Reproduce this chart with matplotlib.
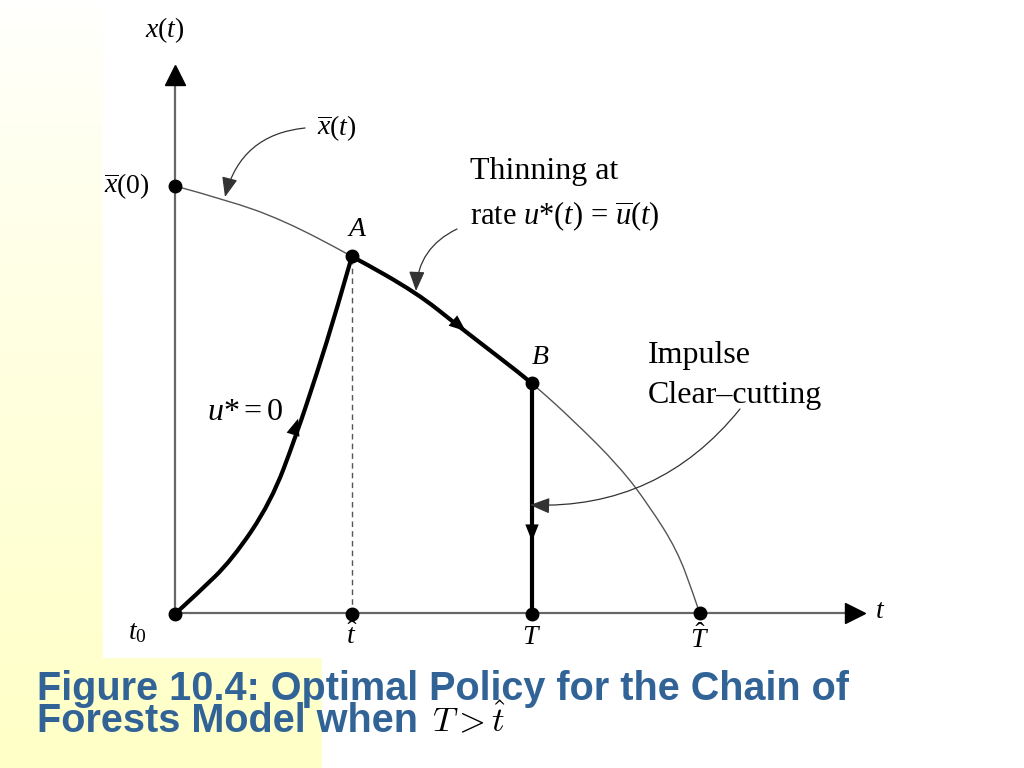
import numpy as np
import matplotlib
matplotlib.use('Agg')
import matplotlib.pyplot as plt
from matplotlib.path import Path
from matplotlib.patches import PathPatch, Rectangle

plt.rcParams['mathtext.fontset'] = 'custom'
plt.rcParams['mathtext.rm'] = 'Liberation Serif'
plt.rcParams['mathtext.it'] = 'Liberation Serif:italic'
plt.rcParams['mathtext.bf'] = 'Liberation Serif:bold'

# points (t along the time axis, x = stand volume)
growth_t = [0, 0.23, 0.57, 0.96, 1.21, 1.42, 1.61, 1.77]      # u* = 0 path, t0 -> A
growth_x = [0, 0.21, 0.54, 1.12, 1.78, 2.41, 3.02, 3.58]

xbar_t = [0, 0.52, 1.08, 1.77, 2.42, 2.82, 3.25, 3.57, 3.98, 4.45, 4.75, 5.02, 5.18, 5.25]
xbar_x = [4.28, 4.14, 3.94, 3.58, 3.21, 2.89, 2.56, 2.31, 1.94, 1.47, 1.07, 0.64, 0.21, 0.0]

t_hat = 1.77
T = 3.57
T_hat = 5.25
x_A = 3.58
x_B = 2.31
x0 = 4.28


def smooth_path(ts, xs):
    # quadratic b-spline through the read points (library draws the curves)
    pts = np.column_stack([ts, xs])
    verts = [pts[0]]
    codes = [Path.MOVETO]
    n = len(pts)
    for i in range(1, n - 1):
        end = pts[i + 1] if i == n - 2 else (pts[i] + pts[i + 1]) / 2
        verts += [pts[i], end]
        codes += [Path.CURVE3, Path.CURVE3]
    return Path(verts, codes)


fig = plt.figure(figsize=(10.24, 7.68), dpi=100)

# slide background: yellow gradient strip on the left, white picture area
bg = fig.add_axes([0, 0, 1, 1])
bg.set_xlim(0, 1024)
bg.set_ylim(768, 0)
bg.axis('off')
grad = np.linspace(0, 1, 256).reshape(-1, 1)
yellow = np.ones((256, 1, 3))
yellow[:, :, 2] = 1 - 0.22 * grad ** 0.8
bg.imshow(yellow, extent=[0, 322, 768, 0], aspect='auto', zorder=0)
bg.add_patch(Rectangle((322, 0), 702, 768, color='white', zorder=1))
bg.add_patch(Rectangle((103, 0), 921, 657, color='white', zorder=2))

ax = fig.add_axes([0, 0, 1, 1])
ax.set_xlim(-1.75, 8.49)
ax.set_ylim(-1.54, 6.14)
ax.axis('off')
ax.patch.set_alpha(0)

# axes
ax.plot([0, 0], [0, 5.35], color='#666666', lw=1.6, zorder=2)
ax.plot([0, 6.75], [0.01, 0.01], color='#666666', lw=1.6, zorder=2)
ax.plot(0, 5.39, marker='^', ms=15, color='black', zorder=3)
ax.plot(6.80, 0.01, marker='>', ms=15, color='black', zorder=3)

# xbar(t) curve (thin)
xbar_path = smooth_path(xbar_t, xbar_x)
ax.add_patch(PathPatch(xbar_path, fill=False, edgecolor='#555555', lw=1.0, zorder=2))
# thinning along xbar from A to B (same curve, clipped)
thick = PathPatch(xbar_path, fill=False, edgecolor='black', lw=3.0, zorder=4)
ax.add_patch(thick)
clip = Rectangle((t_hat, -1), T - t_hat, 7, transform=ax.transData)
thick.set_clip_path(clip)
# growth with u* = 0
ax.add_patch(PathPatch(smooth_path(growth_t, growth_x), fill=False,
                       edgecolor='black', lw=3.0, zorder=4))
# clear-cutting at T
ax.plot([T, T], [0, x_B], color='black', lw=3.0, zorder=4)
# dashed drop from A
ax.plot([t_hat, t_hat], [0, x_A - 0.05], color='#555555', lw=1.0,
        linestyle=(0, (4, 3)), zorder=2)

# dots
ax.plot([0, t_hat, T, T_hat, 0, t_hat, T], [0, 0, 0, 0.01, x0, x_A, x_B],
        'o', color='black', ms=9, zorder=5)

# direction heads on the paths
hs = '-|>,head_length=0.55,head_width=0.22'
head = dict(arrowstyle=hs, mutation_scale=22, lw=0, color='black')
ax.annotate('', xy=(1.24, 1.98), xytext=(1.15, 1.70), arrowprops=head, zorder=6)
ax.annotate('', xy=(2.93, 2.81), xytext=(2.70, 3.00), arrowprops=head, zorder=6)
ax.annotate('', xy=(T, 0.70), xytext=(T, 0.96), arrowprops=head, zorder=6)

# callout arrows
call = dict(arrowstyle=hs, mutation_scale=22, lw=0.9, color='#333333',
            shrinkA=0, shrinkB=0)
ax.annotate('', xy=(0.50, 4.17), xytext=(1.30, 4.86),
            arrowprops=dict(call, connectionstyle='arc3,rad=0.35'), zorder=6)
ax.annotate('', xy=(2.41, 3.23), xytext=(2.82, 3.85),
            arrowprops=dict(call, connectionstyle='arc3,rad=0.3'), zorder=6)
ax.annotate('', xy=(3.55, 1.09), xytext=(5.65, 2.05),
            arrowprops=dict(call, connectionstyle='arc3,rad=-0.25'), zorder=6)

# labels
serif = 'Liberation Serif'
ax.text(-0.10, 5.84, r'$x(t)$', fontsize=20, ha='center', va='center', family=serif)
ax.text(7.05, 0.03, r'$t$', fontsize=20, ha='center', va='center', family=serif)
ax.text(1.62, 4.86, r'$\overline{x}(t)$', fontsize=20, ha='center', va='center', family=serif)
ax.text(-0.25, 4.28, r'$\overline{x}(\mathrm{0})$', fontsize=20, ha='right', va='center', family=serif)
ax.text(1.82, 3.85, r'$A$', fontsize=20, ha='center', va='center', family=serif)
ax.text(3.65, 2.56, r'$B$', fontsize=20, ha='center', va='center', family=serif)
ax.text(0.70, 2.02, r'$u$*$=\mathrm{0}$', fontsize=23, ha='center', va='center', family=serif)
ax.text(-0.38, -0.19, r'$t_{\mathrm{0}}$', fontsize=20, ha='center', va='center', family=serif)
ax.text(t_hat, -0.22, r'$\hat{t}$', fontsize=20, ha='center', va='center', family=serif)
ax.text(T, -0.24, r'$T$', fontsize=20, ha='center', va='center', family=serif)
ax.text(T_hat, -0.25, r'$\hat{T}$', fontsize=20, ha='center', va='center', family=serif)

ax.text(2.95, 4.42, 'Thinning at', fontsize=23, ha='left', va='center', family=serif)
ax.text(2.95, 3.98, r'rate $u$*$(t)$ = $\overline{u}(t)$', fontsize=22, ha='left',
        va='center', family=serif)
ax.text(4.73, 2.58, 'Impulse', fontsize=23, ha='left', va='center', family=serif)
ax.text(4.73, 2.18, 'Clear\u2013cutting', fontsize=23, ha='left', va='center', family=serif)

# caption (two tightly spaced lines, as on the slide)
blue = '#326397'
fig.text(37 / 1024, 1 - 732 / 768,
         'Figure 10.4: Optimal Policy for the Chain of\nForests Model when',
         fontsize=28.5, fontweight='bold', color=blue, family='Liberation Sans',
         ha='left', va='baseline', linespacing=0.81)
fig.text(432 / 1024, 1 - 732 / 768, r'$T > \hat{t}$', fontsize=25, color='black',
         math_fontfamily='cm', ha='left', va='baseline')

fig.savefig('out.png', dpi=100)
